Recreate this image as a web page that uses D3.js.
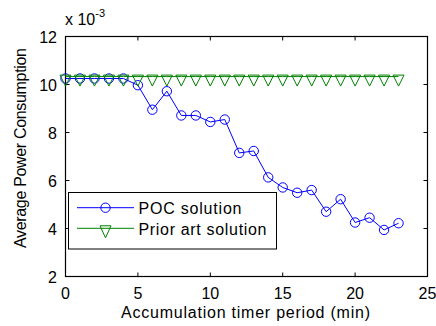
<!DOCTYPE html>
<html>
<head>
<meta charset="utf-8">
<script src="https://cdn.jsdelivr.net/npm/d3@7"></script>
<style>
  html, body { margin: 0; padding: 0; background: #fff; }
  svg { display: block; font-family: Arial, "Liberation Sans", sans-serif; }
</style>
</head>
<body>
<svg id="chart" width="436" height="326"></svg>
<script>
// ---- data (values in units of 1e-3) ----
const periods = d3.range(0, 24);
const pocValues = [10.25, 10.25, 10.25, 10.25, 10.25, 9.97, 8.95, 9.72, 8.71, 8.71,
                   8.44, 8.54, 7.15, 7.23, 6.13, 5.71, 5.49, 5.60, 4.70, 5.22,
                   4.25, 4.45, 3.94, 4.22];
const priorValues = [10.33, 10.33, 10.33, 10.33, 10.33, 10.33, 10.33, 10.33, 10.33, 10.33,
                     10.33, 10.33, 10.33, 10.33, 10.33, 10.33, 10.33, 10.33, 10.33, 10.33,
                     10.33, 10.33, 10.33, 10.33];
const xTicks = [0, 5, 10, 15, 20, 25];
const yTicks = [2, 4, 6, 8, 10, 12];
const seriesNames = ["POC solution", "Prior art solution"];
const xTitle = "Accumulation timer period (min)";
const yTitle = "Average Power Consumption";

const svg = d3.select("#chart");
const x = d3.scaleLinear().domain([0, 25]).range([65.5, 427.5]);
const y = d3.scaleLinear().domain([2, 12]).range([276.5, 36.5]);

const blue = "#0000ff", green = "#008000";
const tl = 4;

// axes frame
const axG = svg.append("g");
axG.append("rect")
  .attr("x", x(0)).attr("y", y(12))
  .attr("width", x(25) - x(0)).attr("height", y(2) - y(12))
  .attr("fill", "#fff").attr("stroke", "#000").attr("stroke-width", 1.2);

// ticks inward on all sides
xTicks.forEach(t => {
  axG.append("line").attr("x1", x(t)).attr("x2", x(t)).attr("y1", y(2)).attr("y2", y(2) - tl).attr("stroke", "#000");
  axG.append("line").attr("x1", x(t)).attr("x2", x(t)).attr("y1", y(12)).attr("y2", y(12) + tl).attr("stroke", "#000");
  axG.append("text").attr("x", x(t)).attr("y", 298.5).attr("text-anchor", "middle")
    .attr("font-size", 16).attr("fill", "#000").text(t);
});
yTicks.forEach(t => {
  axG.append("line").attr("x1", x(0)).attr("x2", x(0) + tl).attr("y1", y(t)).attr("y2", y(t)).attr("stroke", "#000");
  axG.append("line").attr("x1", x(25)).attr("x2", x(25) - tl).attr("y1", y(t)).attr("y2", y(t)).attr("stroke", "#000");
  axG.append("text").attr("x", 57).attr("y", y(t) + 6).attr("text-anchor", "end")
    .attr("font-size", 16).attr("fill", "#000").text(t);
});

// exponent label
const ex = svg.append("text").attr("x", 65).attr("y", 25).attr("font-size", 16).attr("fill", "#000");
ex.append("tspan").text("x 10");
ex.append("tspan").attr("font-size", 11).attr("dy", -8).text("-3");

// axis titles
svg.append("text").attr("x", 245.5).attr("y", 317.5).attr("text-anchor", "middle")
  .attr("font-size", 16).attr("fill", "#000")
  .attr("textLength", 249).attr("lengthAdjust", "spacing").text(xTitle);
svg.append("text").attr("transform", "translate(26,148) rotate(-90)").attr("text-anchor", "middle")
  .attr("font-size", 16).attr("fill", "#000")
  .attr("textLength", 200).attr("lengthAdjust", "spacing").text(yTitle);

// series
const line = d3.line().x((d, i) => x(periods[i])).y(d => y(d));
const triPath = "M-5.5,-1.5L5.5,-1.5L0,9.5Z";

const plotG = svg.append("g");
plotG.append("path").datum(pocValues).attr("d", line)
  .attr("fill", "none").attr("stroke", blue).attr("stroke-width", 1);
plotG.selectAll("circle.poc").data(pocValues).join("circle").attr("class", "poc")
  .attr("cx", (d, i) => x(periods[i])).attr("cy", d => y(d)).attr("r", 4.7)
  .attr("fill", "none").attr("stroke", blue).attr("stroke-width", 1);

plotG.append("path").datum(priorValues).attr("d", line)
  .attr("fill", "none").attr("stroke", green).attr("stroke-width", 1);
plotG.selectAll("path.prior").data(priorValues).join("path").attr("class", "prior")
  .attr("transform", (d, i) => `translate(${x(periods[i])},${y(d)})`)
  .attr("d", triPath).attr("fill", "none").attr("stroke", green).attr("stroke-width", 1);

// legend
const lg = svg.append("g");
lg.append("rect").attr("x", 68.5).attr("y", 192.5).attr("width", 208).attr("height", 56.5)
  .attr("fill", "#fff").attr("stroke", "#000").attr("stroke-width", 1);
const rows = [207.7, 228.3];
const textLens = [103, 128];
[blue, green].forEach((c, i) => {
  const ry = rows[i];
  lg.append("line").attr("x1", 77).attr("x2", 134).attr("y1", ry).attr("y2", ry)
    .attr("stroke", c).attr("stroke-width", 1);
  if (i === 0) {
    lg.append("circle").attr("cx", 105.5).attr("cy", ry).attr("r", 4.7)
      .attr("fill", "none").attr("stroke", c);
  } else {
    lg.append("path").attr("transform", `translate(105.5,${ry})`).attr("d", "M-5.5,-2.5L5.5,-2.5L0,9.5Z")
      .attr("fill", "none").attr("stroke", c);
  }
  lg.append("text").attr("x", 138.5).attr("y", ry + 6.5).attr("font-size", 16).attr("fill", "#000")
    .attr("textLength", textLens[i]).attr("lengthAdjust", "spacing").text(seriesNames[i]);
});
</script>
</body>
</html>
